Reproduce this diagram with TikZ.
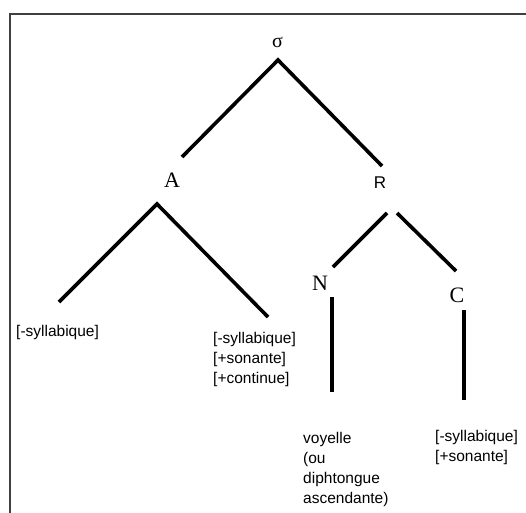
\documentclass[tikz,border=0pt]{standalone}
\usepackage{fontspec}
\setmainfont{Liberation Sans}
\newfontfamily\serifface{Liberation Serif}
\begin{document}
\begin{tikzpicture}[x=1pt,y=-1pt,
  edge/.style={line width=3.6pt},
  lbl/.style={inner sep=0pt,anchor=north west,align=left,font=\fontsize{15.5}{20}\selectfont},
  sym/.style={inner sep=0pt,font=\serifface\fontsize{22}{24}\selectfont},
  frame/.style={draw=black!75,line width=2pt}]
\useasboundingbox (0,0) rectangle (526,512);
\draw[frame] (10,513) -- (10,14) -- (527,14);
% nodes
\node[inner sep=0pt,font=\serifface\fontsize{20}{22}\selectfont] (sigma) at (277.5,42) {σ};
\node[sym] (A) at (172,180) {A};
\node[inner sep=0pt,font=\fontsize{17}{19}\selectfont] (R) at (380,183) {R};
\node[sym] (N) at (320,283) {N};
\node[sym] (C) at (457,295) {C};
\node[lbl] (f1) at (16,325) {[-syllabique]};
\node[lbl] (f2) at (213,332) {[-syllabique]\\{}[+sonante]\\{}[+continue]};
\node[lbl] (v) at (303,432) {voyelle\\(ou\\diphtongue\\ascendante)};
\node[lbl] (f3) at (435,430) {[-syllabique]\\{}[+sonante]};
% connector end points
\coordinate (s0) at (278,60);
\coordinate (sA) at (182,157);
\coordinate (sR) at (382,166);
\coordinate (a0) at (157,204);
\coordinate (a1) at (59,302);
\coordinate (a2) at (268,317);
\coordinate (r1) at (387,213);
\coordinate (r1e) at (333,267);
\coordinate (r2) at (397,213);
\coordinate (r2e) at (456,271);
\coordinate (n0) at (332,297);
\coordinate (n1) at (332,392);
\coordinate (c0) at (464,310);
\coordinate (c1) at (464,400);
% connectors
\draw[edge] (sA) -- (s0) -- (sR);
\draw[edge] (a1) -- (a0) -- (a2);
\draw[edge] (r1) -- (r1e);
\draw[edge] (r2) -- (r2e);
\draw[edge] (n0) -- (n1);
\draw[edge] (c0) -- (c1);
\end{tikzpicture}
\end{document}
